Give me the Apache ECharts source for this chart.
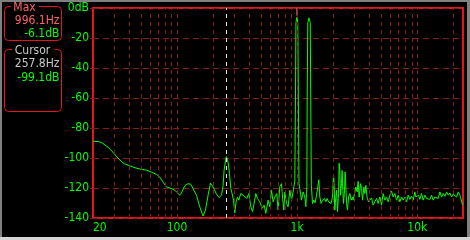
<!DOCTYPE html>
<html><head><meta charset="utf-8">
<script src="https://cdn.jsdelivr.net/npm/echarts@6/dist/echarts.min.js"></script>
<style>
html,body{margin:0;padding:0;width:470px;height:240px;overflow:hidden;background:#808080;}
#c{position:absolute;left:2px;top:2px;width:465px;height:235px;background:#000;}
#b{position:absolute;left:0;top:237px;width:470px;height:3px;background:#d4d4d4;}
</style></head><body>
<div id="c"></div><div id="b"></div>
<script>
// ---- data ----
const spectrum = [
 [20,-88.7],[22.7,-89.2],[24.2,-90.3],[26.7,-92.9],[29.4,-96.2],[31.3,-98.9],[34.5,-102.4],[36.7,-103.9],
 [40.4,-105.2],[46.0,-106.8],[50.6,-107.6],[55.7,-108.1],[61.3,-109.4],[67.5,-110.9],[71.9,-112.7],[76.5,-116],
 [81.7,-119.3],[84.3,-120.2],[91.7,-120.6],[97.6,-122],[105.4,-124.8],[108.9,-123.3],[116.0,-118.5],[123.6,-117.1],
 [130.2,-117.5],[136.1,-120.4],[145.2,-124.8],[154.7,-132.5],[164.8,-138.7],[172.6,-134.7],[181.4,-124.8],[190.0,-116.7],
 [199.6,-119.3],[213.1,-124.1],[224.0,-126.3],[234.6,-124.8],[241.9,-118.2],[246.6,-108.3],[253.3,-101.7],[257.8,-99.1],
 [266.2,-102.8],[273.4,-110.5],[280.4,-120.4],[287.4,-123.7],[295.3,-128.1],[302.7,-136.5],[310.3,-129.2],[318.7,-126],
 [326.8,-128.1],[339.6,-123.7],[354.8,-124.8],[366.6,-126],[380.9,-127],[395.8,-123.7],[411.3,-132.5],[425.0,-135.8],
 [438.2,-130.3],[452.7,-123.7],[467.7,-127],[488.8,-129.2],[510.9,-133.6],[530.8,-131.4],[548.3,-136.9],[573.1,-128.1],
 [592.1,-132.5],[611.7,-121.5],[630.7,-129.2],[651.6,-126],[677.0,-123.7],[694.1,-134.7],[717.2,-119],[740.9,-117.1],
 [755.2,-126],[774.3,-134.7],[789.3,-122.6],[815.5,-130.3],[840.9,-132.5],[868.8,-121.5],[897.6,-128.1],[925.5,-122.6],
 [956,-115],[968,-62],[977,-9.8],[996.1,-6.1],[1012,-9.8],[1024,-62],[1036,-117],
 [1052,-116.7],[1087,-128.1],[1121,-122.6],[1158,-126],[1181,-132.5],
 [1205,-119],[1212,-60],[1226,-9.8],[1255,-6.6],[1285,-9.8],[1298,-60],[1312,-118.2],
 [1343,-130.3],[1376,-128.1],[1411,-129.8],[1450,-124.8],[1486,-119.3],[1515,-114.5],[1544,-126],[1583,-130.3],
 [1626,-128.1],[1690,-127],[1733,-129.2],[1776,-127],[1825,-129.2],[1871,-128.1],[1918,-130.3],[1970,-126],
 [2008,-110.9],[2031,-118.2],[2058,-134.7],[2098,-126],[2127,-121.5],[2168,-135.8],[2210,-123.7],[2236,-103.5],
 [2265,-108.3],[2296,-124.8],[2341,-117.1],[2367,-108.3],[2399,-121.5],[2432,-130.3],[2479,-121.5],[2508,-109.4],
 [2542,-119.3],[2576,-130.3],[2626,-134.7],[2677,-126],[2744,-123.7],[2813,-128.1],[2891,-126],[2924,-128.1],
 [3003,-123.7],[3079,-119.3],[3157,-122.6],[3218,-115.6],[3281,-126],[3370,-117.1],[3435,-120.4],[3501,-128.1],
 [3590,-119.3],[3659,-123.7],[3730,-118.2],[3824,-126.6],[3928,-129.2],[4027,-128.1],[4160,-126.6],[4290,-131.4],
 [4433,-129.2],[4580,-127],[4722,-130.3],[4878,-126],[5040,-131.4],[5196,-123.7],[5368,-128.1],[5546,-126],
 [5719,-129.2],[5908,-124.8],[6104,-122],[6294,-126],[6503,-123.7],[6718,-128.1],[6928,-124.8],[7157,-129.2],
 [7394,-126],[7625,-128.1],[7877,-126],[8138,-129.2],[8392,-124.8],[8670,-127.6],[8957,-125.5],[9237,-128.1],
 [9542,-122.6],[9727,-126],[9972,-127],[10243,-124.8],[10503,-127.6],[10851,-123.7],[11190,-128.1],[11561,-124.8],
 [11944,-127],[12316,-126],[12724,-127.6],[13146,-124.8],[13556,-128.1],[14005,-126],[14469,-124.8],[14920,-127],
 [15414,-122.6],[15925,-126],[16422,-123.7],[16966,-125.5],[17529,-122.6],[18075,-124.8],[18674,-123.3],[19293,-126],
 [19894,-124.1],[20554,-123.7],[21235,-126],[21896,-122.6],[22622,-124.8],[23192,-126],[23822,-131.4]
];
const gridFreqs = [30,40,50,60,70,80,90,100,200,300,400,500,600,700,800,900,1000,2000,3000,4000,5000,6000,7000,8000,9000,10000,20000];
const xTickLabels = {20:'20',100:'100',1000:'1k',10000:'10k'};
const freqMin = 20, freqMax = 24000;
const dbMin = -140, dbMax = 0, dbStep = 20;
const maxFreq = 996.1, maxDb = -6.1;
const cursorFreq = 257.8, cursorDb = -99.1;

// ---- chart ----
const FONT = "'Liberation Sans Narrow','DejaVu Sans Condensed','Liberation Sans',sans-serif";
const GREEN = '#00ff00', RED = '#e8141c', GRID = '#8c1c1c', PINK = '#ff6464', GRAY = '#c8c8c8';
const chart = echarts.init(document.getElementById('c'), null, {renderer:'canvas'});
const txt = (s, x, y, color, align) => ({type:'text', x, y, style:{text:s, fill:color, font:'12px '+FONT, align:align||'right', verticalAlign:'middle'}});
chart.setOption({
  backgroundColor:'#000',
  animation:false,
  grid:{left:91, top:4, right:4, bottom:19, show:true, borderColor:RED, borderWidth:2, backgroundColor:'#000'},
  xAxis:{type:'log', logBase:10, min:freqMin, max:freqMax,
    axisLine:{show:false}, axisTick:{show:false}, splitLine:{show:false},
    axisLabel:{color:GREEN, fontFamily:FONT, fontSize:12, margin:4, alignMinLabel:'left', showMaxLabel:false,
      formatter:v => xTickLabels[Math.round(v)] || ''}},
  yAxis:{type:'value', min:dbMin, max:dbMax, interval:dbStep,
    axisLine:{show:false}, axisTick:{show:true, length:3, lineStyle:{color:GRID}},
    splitLine:{show:true, lineStyle:{color:GRID, type:[6,4], width:1}},
    axisLabel:{color:GREEN, fontFamily:FONT, fontSize:12, margin:4, formatter:v => v===0 ? '0dB' : String(v)}},
  series:[
    {type:'line', data:[], z:1, silent:true,
      markLine:{silent:true, symbol:'none', label:{show:false}, animation:false,
        lineStyle:{color:GRID, type:[4,4], width:1},
        data:gridFreqs.map(f => ({xAxis:f}))}},
    {type:'line', data:[], z:2, silent:true,
      markLine:{silent:true, symbol:'none', label:{show:false}, animation:false,
        lineStyle:{color:'#e6e6e6', type:[4,4], width:1},
        data:[{xAxis:cursorFreq}]}},
    {type:'line', data:spectrum, z:3, showSymbol:false, silent:true,
      lineStyle:{color:GREEN, width:1}},
    {type:'line', data:[[maxFreq,dbMax],[maxFreq,dbMax-5]], z:4, showSymbol:false, silent:true,
      lineStyle:{color:'#ff8080', width:1}}
  ],
  graphic:[
    {type:'rect', shape:{x:2.5, y:4.5, width:57, height:34, r:4}, style:{fill:'none', stroke:RED, lineWidth:1}},
    {type:'rect', shape:{x:9, y:2, width:28, height:6}, style:{fill:'#000'}},
    txt('Max', 22.5, 6, PINK, 'center'),
    txt(maxFreq.toFixed(1)+'Hz', 57.5, 18.5, PINK),
    txt(maxDb.toFixed(1)+'dB', 57.5, 32, GREEN),
    {type:'rect', shape:{x:2.5, y:47.5, width:57, height:62, r:4}, style:{fill:'none', stroke:RED, lineWidth:1}},
    {type:'rect', shape:{x:10, y:44, width:43, height:8}, style:{fill:'#000'}},
    txt('Cursor', 30.5, 49, GRAY, 'center'),
    txt(cursorFreq.toFixed(1)+'Hz', 57.5, 62, GRAY),
    txt(cursorDb.toFixed(1)+'dB', 57.5, 75.5, GREEN)
  ]
});
</script>
</body></html>
